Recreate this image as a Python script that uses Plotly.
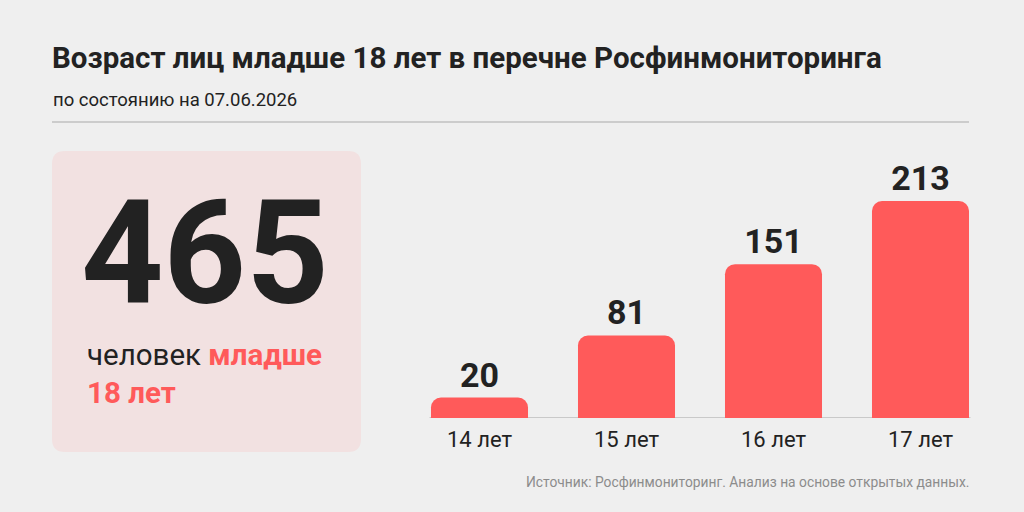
import plotly.graph_objects as go

# data
ages = ["14 лет", "15 лет", "16 лет", "17 лет"]
counts = [20, 81, 151, 213]
total = sum(counts)

title_text = "Возраст лиц младше 18 лет в перечне Росфинмониторинга"
subtitle_text = "по состоянию на 07.06.2026"
source_text = "Источник: Росфинмониторинг. Анализ на основе открытых данных."

BG = "#efefef"
RED = "#ff5a5a"
DARK = "#222222"
CARD = "#f2e1e1"
FONT = "Roboto"

W, H = 1024, 512


def px(x):
    return x / W


def py(y):
    return 1 - y / H


def rounded_rect(x0, y0, x1, y1, r):
    # pixel box -> paper-space svg path with rounded corners
    X = lambda v: f"{px(v):.5f}"
    Y = lambda v: f"{py(v):.5f}"
    return (
        f"M {X(x0 + r)} {Y(y0)} L {X(x1 - r)} {Y(y0)} "
        f"Q {X(x1)} {Y(y0)} {X(x1)} {Y(y0 + r)} "
        f"L {X(x1)} {Y(y1 - r)} Q {X(x1)} {Y(y1)} {X(x1 - r)} {Y(y1)} "
        f"L {X(x0 + r)} {Y(y1)} Q {X(x0)} {Y(y1)} {X(x0)} {Y(y1 - r)} "
        f"L {X(x0)} {Y(y0 + r)} Q {X(x0)} {Y(y0)} {X(x0 + r)} {Y(y0)} Z"
    )


fig = go.Figure()

fig.add_trace(go.Bar(
    x=ages,
    y=counts,
    marker=dict(color=RED, line=dict(width=0)),
    width=0.66,
    text=[str(c) for c in counts],
    textposition="outside",
    textfont=dict(family=FONT, size=34, color=DARK, weight="bold"),
    cliponaxis=False,
    hoverinfo="skip",
))

# baseline under bars
fig.add_shape(type="line", xref="x", yref="y", x0=-0.34, x1=3.34, y0=0, y1=0,
              line=dict(color="#c9c9c9", width=2), layer="below")

# rule under header
fig.add_shape(type="line", xref="paper", yref="paper", x0=px(52), x1=px(969),
              y0=py(122), y1=py(122), line=dict(color="#cccccc", width=2))

# left card
fig.add_shape(type="path", xref="paper", yref="paper",
              path=rounded_rect(52, 151, 361, 452, 13),
              fillcolor=CARD, line=dict(width=0), layer="below")

ann = [
    dict(text="<b>" + title_text + "</b>", x=px(50), y=py(58), xanchor="left",
         yanchor="middle", font=dict(family=FONT, size=29.5, color=DARK)),
    dict(text=subtitle_text, x=px(51), y=py(100), xanchor="left",
         yanchor="middle", font=dict(family=FONT, size=18.5, color=DARK)),
    dict(text="<b>" + str(total) + "</b>", x=px(205), y=py(253), xanchor="center",
         yanchor="middle", font=dict(family=FONT, size=144, color=DARK)),
    dict(text="человек <b><span style='color:%s'>младше</span></b>" % RED,
         x=px(85), y=py(355), xanchor="left", yanchor="middle",
         font=dict(family=FONT, size=29.5, color=DARK)),
    dict(text="<b>18 лет</b>", x=px(85), y=py(393), xanchor="left",
         yanchor="middle", font=dict(family=FONT, size=29.5, color=RED)),
    dict(text=source_text, x=px(971), y=py(482), xanchor="right",
         yanchor="middle", font=dict(family=FONT, size=13.8, color="#8c8c8c")),
]
for a in ann:
    fig.add_annotation(xref="paper", yref="paper", showarrow=False, **a)

fig.update_layout(
    width=W, height=H,
    margin=dict(l=0, r=0, t=0, b=0),
    paper_bgcolor=BG, plot_bgcolor=BG,
    showlegend=False,
    barcornerradius=10,
    font=dict(family=FONT, color=DARK),
    xaxis=dict(domain=[px(406), px(994)], range=[-0.5, 3.5], showgrid=False,
               zeroline=False, showline=False, ticks="",
               tickfont=dict(family=FONT, size=22, color=DARK),
               ticklabelstandoff=6),
    yaxis=dict(domain=[py(418), py(163.3)], range=[0, 250], visible=False,
               showgrid=False, zeroline=False),
)

fig.write_html("out.html", config={"displayModeBar": False},
               post_script="document.body.style.margin='0';")
